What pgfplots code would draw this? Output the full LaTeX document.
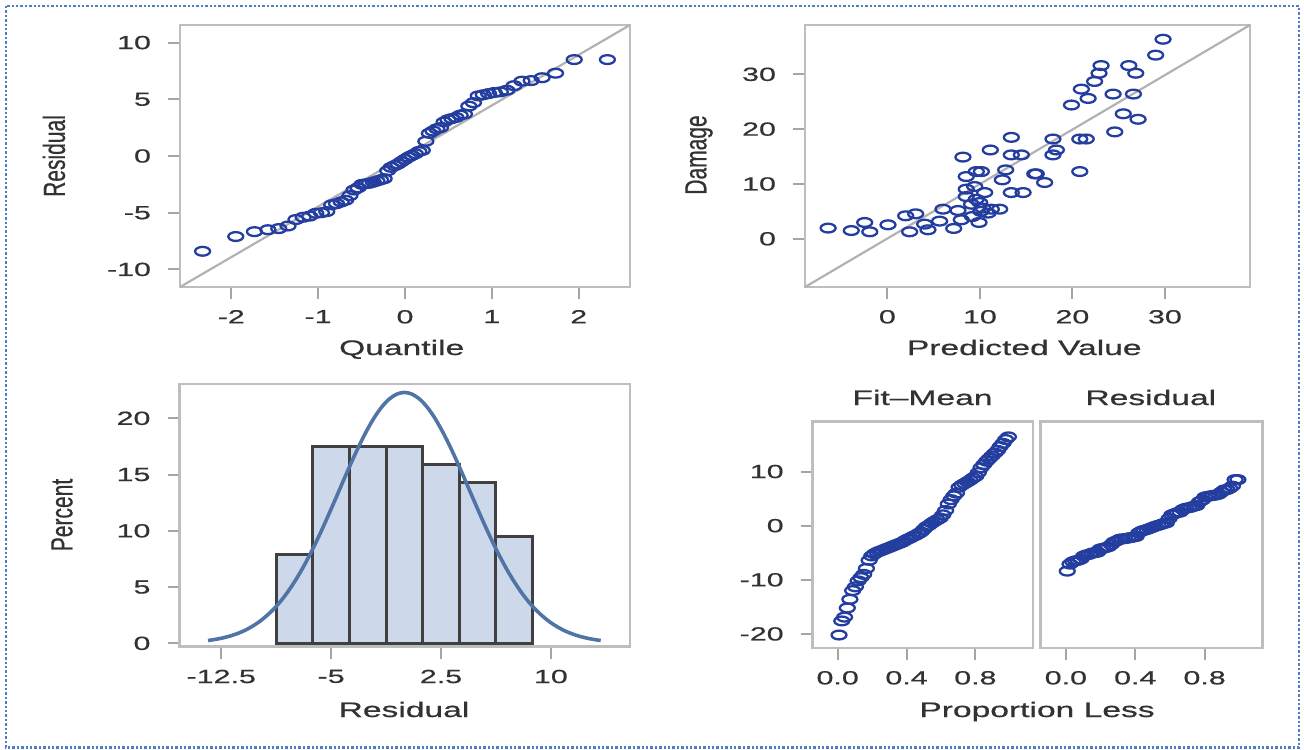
\documentclass[border=0pt]{standalone}
\usepackage{fontspec}
\setmainfont[FakeStretch=1.6, FakeBold=0.7]{Liberation Sans}
\newfontfamily\vfont[FakeBold=0.7]{Liberation Sans}
\usepackage{graphicx}
\usepackage{pgfplots}
\pgfplotsset{compat=1.18}
\usepackage{pgfplotstable}

\definecolor{markblue}{RGB}{36,62,160}
\definecolor{framegray}{RGB}{190,190,190}
\definecolor{tickgray}{RGB}{165,165,165}
\definecolor{txt}{RGB}{50,50,50}
\definecolor{barfill}{RGB}{205,216,234}
\definecolor{curveblue}{RGB}{80,116,166}
\definecolor{borderblue}{RGB}{80,125,200}

% sorted residuals: normal quantile q, proportion p, residual, fit minus mean
\pgfplotstableread{
q p res fm
-2.330 0.008 -8.4 -20.2
-1.948 0.024 -7.1 -17.6
-1.733 0.040 -6.67 -16.9
-1.578 0.056 -6.5 -15.2
-1.453 0.071 -6.4 -13.6
-1.347 0.087 -6.17 -12.0
-1.255 0.103 -5.6 -11.3
-1.172 0.119 -5.4 -10.2
-1.097 0.135 -5.3 -9.6
-1.027 0.151 -5.05 -9.0
-0.962 0.167 -5.0 -7.9
-0.901 0.183 -4.9 -6.4
-0.843 0.198 -4.3 -5.6
-0.788 0.214 -4.2 -5.2
-0.735 0.230 -4.05 -4.9
-0.684 0.246 -3.9 -4.7
-0.635 0.262 -3.5 -4.5
-0.587 0.278 -3.0 -4.3
-0.540 0.294 -2.8 -4.1
-0.495 0.310 -2.5 -3.9
-0.451 0.325 -2.45 -3.7
-0.408 0.341 -2.4 -3.5
-0.365 0.357 -2.3 -3.3
-0.323 0.373 -2.2 -3.1
-0.281 0.389 -2.1 -2.8
-0.240 0.405 -2.0 -2.5
-0.199 0.421 -1.3 -2.3
-0.159 0.437 -1.0 -2.0
-0.119 0.452 -0.85 -1.8
-0.079 0.468 -0.7 -1.5
-0.040 0.484 -0.5 -1.2
0.000 0.500 -0.3 -0.7
0.040 0.516 -0.1 -0.2
0.079 0.532 0.05 0.1
0.119 0.548 0.2 0.5
0.159 0.563 0.4 0.8
0.199 0.579 0.5 1.1
0.240 0.595 1.3 1.4
0.281 0.611 2.0 2.0
0.323 0.627 2.2 2.8
0.365 0.643 2.4 4.0
0.408 0.659 2.5 4.8
0.451 0.675 3.0 5.5
0.495 0.690 3.2 6.0
0.540 0.706 3.3 7.1
0.587 0.722 3.4 7.5
0.635 0.738 3.6 7.8
0.684 0.754 3.7 8.1
0.735 0.770 4.4 8.4
0.788 0.786 4.7 8.8
0.843 0.802 5.3 9.1
0.901 0.817 5.4 9.8
0.962 0.833 5.5 10.7
1.027 0.849 5.6 11.3
1.097 0.865 5.65 11.9
1.172 0.881 5.8 12.4
1.255 0.897 6.2 12.9
1.347 0.913 6.6 13.4
1.453 0.929 6.65 13.9
1.578 0.944 6.9 14.6
1.733 0.960 7.3 15.2
1.948 0.976 8.5 15.9
2.330 0.992 8.5 16.4
}\resid

% predicted value vs damage
\pgfplotstableread{
pred dmg
-6.4 1.95
-3.9 1.5
-2.45 2.97
-1.9 1.27
0.07 2.55
1.98 4.19
2.41 1.27
3.06 4.55
4.03 2.67
4.39 1.64
5.65 3.22
6.01 5.4
7.17 1.88
7.63 5.16
7.99 3.46
8.17 14.9
8.53 11.35
8.53 7.7
8.53 9.05
9.19 4.06
9.44 9.53
9.62 12.26
9.91 2.97
9.98 6.61
10.16 12.26
10.34 5.59
10.52 8.43
10.88 4.68
9.6 7.2
10.1 5.0
9.1 6.3
11.13 16.2
11.24 5.4
12.14 5.4
12.43 10.75
12.79 12.57
13.4 18.5
13.4 15.3
13.4 8.43
14.48 15.3
14.67 8.43
15.93 11.84
16.1 11.84
17.0 10.26
17.9 15.3
17.9 18.2
18.27 16.2
19.9 24.4
20.8 12.26
20.8 18.2
20.97 27.3
21.5 18.2
21.7 25.6
22.4 28.7
22.88 30.2
23.1 31.6
24.4 26.4
24.58 19.5
25.5 22.8
26.1 31.6
26.6 26.4
26.85 30.2
27.1 21.8
29.0 33.5
29.8 36.4
}\scat

\pgfplotsset{
  panel/.style={
    scale only axis, anchor=south west,
    axis line style={framegray, line width=1.3pt},
    tick style={tickgray, line width=1pt},
    tick align=outside, major tick length=6pt,
    xtick pos=bottom, ytick pos=left,
    tick label style={font=\fontsize{9.5}{11}\selectfont, text=txt},
    /pgf/number format/assume math mode=true,
    yticklabel style={xshift=-5pt},
    xticklabel style={yshift=-2pt},
  },
  dots/.style={only marks, mark=o, mark size=2.2pt,
    mark options={markblue, line width=1.15pt, xscale=1.7}},
  diag/.style={no marks, black!30, line width=1.1pt},
}
\tikzset{
  lab/.style={font=\fontsize{10.5}{12}\selectfont, text=txt, anchor=base},
  vlab/.style={font=\vfont\fontsize{10.5}{12}\selectfont, text=txt, rotate=90, anchor=center},
}

\begin{document}
\begin{tikzpicture}
\path[use as bounding box] (0,0) rectangle (652pt,-374.5pt);
\draw[borderblue, line width=1.2pt, densely dotted] (3pt,-3pt) rectangle (649.5pt,-373.8pt);

% Q-Q plot of residuals
\begin{axis}[panel, at={(90pt,-143.5pt)}, width=225pt, height=131pt,
  xmin=-2.59, xmax=2.59, ymin=-11.55, ymax=11.55,
  xtick={-2,-1,0,1,2}, ytick={-10,-5,0,5,10}]
\addplot[diag] coordinates {(-2.59,-11.55) (2.59,11.55)};
\addplot[dots] table[x=q, y=res] {\resid};
\end{axis}

% observed by predicted
\begin{axis}[panel, at={(402.5pt,-143.5pt)}, width=222.5pt, height=131pt,
  xmin=-8.9, xmax=39.2, ymin=-8.8, ymax=39.0,
  xtick={0,10,20,30}, ytick={0,10,20,30}]
\addplot[diag] coordinates {(-8.9,-8.8) (39.2,39.0)};
\addplot[dots] table[x=pred, y=dmg] {\scat};
\end{axis}

% histogram of residuals with normal curve
\begin{axis}[panel, at={(89.75pt,-323.35pt)}, width=225.25pt, height=131.35pt,
  xmin=-15.35, xmax=15.4, ymin=-0.3, ymax=23.05,
  xtick={-12.5,-5,2.5,10}, ytick={0,5,10,15,20}]
\addplot[ybar interval, fill=barfill, draw=black!75, line width=1.5pt] coordinates {
  (-8.75,7.94) (-6.25,17.46) (-3.75,17.46) (-1.25,17.46)
  (1.25,15.87) (3.75,14.29) (6.25,9.52) (8.75,9.52)};
\addplot[curveblue, line width=1.8pt, smooth, no marks] coordinates {
  (-13.4,0.25) (-13,0.33) (-12.5,0.45) (-12,0.61) (-11.5,0.82) (-11,1.08)
  (-10.5,1.42) (-10,1.83) (-9.5,2.34) (-9,2.94) (-8.5,3.66) (-8,4.50)
  (-7.5,5.47) (-7,6.55) (-6.5,7.76) (-6,9.07) (-5.5,10.47) (-5,11.94)
  (-4.5,13.44) (-4,14.95) (-3.5,16.42) (-3,17.81) (-2.5,19.07) (-2,20.18)
  (-1.5,21.08) (-1,21.75) (-0.5,22.16) (0,22.3) (0.5,22.16) (1,21.75)
  (1.5,21.08) (2,20.18) (2.5,19.07) (3,17.81) (3.5,16.42) (4,14.95)
  (4.5,13.44) (5,11.94) (5.5,10.47) (6,9.07) (6.5,7.76) (7,6.55)
  (7.5,5.47) (8,4.50) (8.5,3.66) (9,2.94) (9.5,2.34) (10,1.83)
  (10.5,1.42) (11,1.08) (11.5,0.82) (12,0.61) (12.5,0.45) (13,0.33) (13.4,0.25)};
\end{axis}

% residual-fit spread plot
\begin{axis}[panel, at={(406.35pt,-324pt)}, width=110.15pt, height=113.15pt,
  xmin=-0.145, xmax=1.135, ymin=-22.6, ymax=19.2,
  xtick={0,0.4,0.8}, ytick={-20,-10,0,10},
  xticklabel style={/pgf/number format/.cd, fixed, fixed zerofill, precision=1}]
\addplot[dots] table[x=p, y=fm] {\resid};
\end{axis}
\begin{axis}[panel, at={(520.35pt,-324pt)}, width=111pt, height=113.15pt,
  xmin=-0.145, xmax=1.135, ymin=-22.6, ymax=19.2,
  xtick={0,0.4,0.8}, ytick=\empty,
  xticklabel style={/pgf/number format/.cd, fixed, fixed zerofill, precision=1}]
\addplot[dots] table[x=p, y=res] {\resid};
\end{axis}

% titles and axis labels
\node[lab] at (200.85pt,-177.5pt) {Quantile};
\node[lab] at (512.1pt,-177.5pt) {Predicted Value};
\node[lab] at (202pt,-358.5pt) {Residual};
\node[lab] at (518.5pt,-358.5pt) {Proportion Less};
\node[lab] at (461.25pt,-202.5pt) {Fit--Mean};
\node[lab] at (575.4pt,-202.5pt) {Residual};
\node[vlab] at (27pt,-78pt) {\scalebox{1}[1.45]{Residual}};
\node[vlab] at (349.5pt,-77.5pt) {\scalebox{1}[1.45]{Damage}};
\node[vlab] at (31pt,-257.5pt) {\scalebox{1}[1.45]{Percent}};
\end{tikzpicture}
\end{document}
